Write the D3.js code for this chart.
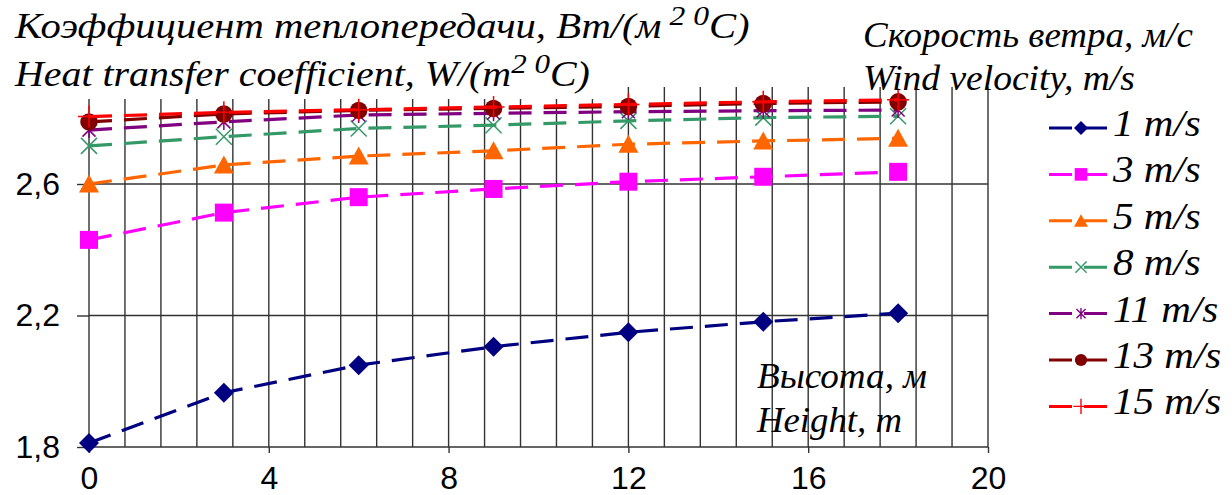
<!DOCTYPE html>
<html>
<head>
<meta charset="utf-8">
<script src="https://cdn.jsdelivr.net/npm/d3@7"></script>
<style>
  body { margin: 0; background: #fff; }
  svg { display: block; }
</style>
</head>
<body>
<script>
// heights (m) and heat transfer coefficient per wind speed
var heights = [0, 3, 6, 9, 12, 15, 18];
var v1  = [1.812, 1.965, 2.049, 2.105, 2.149, 2.181, 2.207];
var v3  = [2.430, 2.513, 2.560, 2.585, 2.607, 2.622, 2.637];
var v5  = [2.600, 2.658, 2.685, 2.701, 2.721, 2.731, 2.739];
var v8  = [2.716, 2.744, 2.769, 2.779, 2.792, 2.802, 2.806];
var v11 = [2.764, 2.789, 2.810, 2.815, 2.820, 2.823, 2.825];
var v13 = [2.789, 2.813, 2.824, 2.830, 2.836, 2.845, 2.850];
var v15 = [2.805, 2.818, 2.826, 2.834, 2.842, 2.850, 2.856];
var seriesNames = ["1 m/s", "3 m/s", "5 m/s", "8 m/s", "11 m/s", "13 m/s", "15 m/s"];
var xTicks = [0, 4, 8, 12, 16, 20];
var yTicks = [1.8, 2.2, 2.6];

var svgWidth = 1232, svgHeight = 495;
var plotLeft = 89, plotRight = 988, plotTop = 87, plotBottom = 447;

var series = [
  {name: seriesNames[0], values: v1,  color: "#000080", marker: "diamond"},
  {name: seriesNames[1], values: v3,  color: "#ff00ff", marker: "square"},
  {name: seriesNames[2], values: v5,  color: "#ff6600", marker: "triangle"},
  {name: seriesNames[3], values: v8,  color: "#339966", marker: "x"},
  {name: seriesNames[4], values: v11, color: "#800080", marker: "star"},
  {name: seriesNames[5], values: v13, color: "#800000", marker: "circle"},
  {name: seriesNames[6], values: v15, color: "#ff0000", marker: "plus"}
];

var x = d3.scaleLinear().domain([0, 20]).range([plotLeft, plotRight]);
var y = d3.scaleLinear().domain([1.8, 2.8951]).range([plotBottom, plotTop]);

var svg = d3.select("body").append("svg")
    .attr("width", svgWidth)
    .attr("height", svgHeight);

// grid: vertical lines every 0.8 m
var vGrid = d3.range(0, 20.0001, 0.8);
svg.append("g").selectAll("line")
    .data(vGrid)
    .enter()
    .append("line")
    .attr("x1", function(d) { return x(d); })
    .attr("x2", function(d) { return x(d); })
    .attr("y1", y(1.8))
    .attr("y2", plotTop)
    .attr("stroke", "#333")
    .attr("stroke-width", 1.4);

svg.append("g").selectAll("line")
    .data(yTicks)
    .enter()
    .append("line")
    .attr("x1", plotLeft)
    .attr("x2", plotRight)
    .attr("y1", function(d) { return y(d); })
    .attr("y2", function(d) { return y(d); })
    .attr("stroke", "#333")
    .attr("stroke-width", 1.4);

// axes
var fmtComma = function(d) { return d.toFixed(1).replace(".", ","); };
var yAxis = svg.append("g")
    .attr("transform", "translate(" + plotLeft + ",0)")
    .call(d3.axisLeft(y).tickValues(yTicks).tickSize(12).tickPadding(17).tickFormat(fmtComma));
var xAxis = svg.append("g")
    .attr("transform", "translate(0," + plotBottom + ")")
    .call(d3.axisBottom(x).tickValues(xTicks).tickSize(6).tickPadding(13).tickFormat(d3.format("d")));
[yAxis, xAxis].forEach(function(a) {
  a.select(".domain").remove();
  a.selectAll("line").attr("stroke", "#333").attr("stroke-width", 1.4);
  a.selectAll("text")
    .attr("fill", "#000")
    .style("font-family", "'Liberation Sans', Arial, sans-serif")
    .style("font-size", "32px");
});

// white box behind the title covers the top of the grid
svg.append("rect")
    .attr("x", 0).attr("y", 0)
    .attr("width", 620).attr("height", 99)
    .attr("fill", "#fff");

function markerPath(type) {
  switch (type) {
    case "diamond": return "M0,-10L10,0L0,10L-10,0Z";
    case "square": return "M-9,-9H9V9H-9Z";
    case "triangle": return "M0,-9.5L10,8.5H-10Z";
    case "circle": return d3.symbol(d3.symbolCircle, 240)();
    case "x": return "M-8,-8L8,8M-8,8L8,-8";
    case "star": return "M-6.5,-6.5L6.5,6.5M-6.5,6.5L6.5,-6.5M0,-8V8";
    case "plus": return "M-11,0H11M0,-11V11";
  }
}
function isStroked(type) { return type === "x" || type === "star" || type === "plus"; }

var line = d3.line()
    .x(function(d, i) { return x(heights[i]); })
    .y(function(d) { return y(d); });

var groups = svg.selectAll(".series")
    .data(series)
    .enter()
    .append("g")
    .attr("class", "series");

groups.append("path")
    .attr("d", function(s) { return line(s.values); })
    .attr("fill", "none")
    .attr("stroke", function(s) { return s.color; })
    .attr("stroke-width", 3.2)
    .attr("stroke-dasharray", "23,12");

groups.each(function(s) {
  d3.select(this).selectAll(".m")
    .data(s.values)
    .enter()
    .append("path")
    .attr("class", "m")
    .attr("transform", function(d, i) { return "translate(" + x(heights[i]) + "," + y(d) + ")"; })
    .attr("d", markerPath(s.marker))
    .attr("fill", isStroked(s.marker) ? "none" : s.color)
    .attr("stroke", s.color)
    .attr("stroke-width", isStroked(s.marker) ? 1.5 : 0);
});

// texts (the reference face is a bit wider than Liberation Serif, so stretch to width)
var serif = "'Liberation Serif', 'Times New Roman', serif";
function label(tx, ty, size) {
  return svg.append("text")
    .attr("x", tx).attr("y", ty)
    .style("font-family", serif)
    .style("font-style", "italic")
    .style("font-size", size + "px")
    .attr("fill", "#000");
}
function fitWidth(t, tx, w) {
  var sx = w / t.node().getComputedTextLength();
  t.attr("transform", "translate(" + tx + ",0) scale(" + sx + ",1) translate(" + (-tx) + ",0)");
}

var t1 = label(15, 38, 36);
t1.append("tspan").text("Коэффициент теплопередачи, Вт/(м");
t1.append("tspan").attr("dy", -13).style("font-size", "28px").text(" 2 0");
t1.append("tspan").attr("dy", 13).text("С)");
fitWidth(t1, 15, 735);

var t2 = label(15, 86, 36);
t2.append("tspan").text("Heat transfer coefficient, W/(m");
t2.append("tspan").attr("dy", -13).style("font-size", "28px").text("2 0");
t2.append("tspan").attr("dy", 13).text("C)");
fitWidth(t2, 15, 575);

fitWidth(label(863, 47, 36).text("Скорость ветра, м/с"), 863, 330);
fitWidth(label(863, 90, 36).text("Wind velocity, m/s"), 863, 272);
fitWidth(label(757, 388, 36).text("Высота, м"), 757, 170);
fitWidth(label(757, 432, 36).text("Height, m"), 757, 145);

// legend
var legend = svg.selectAll(".legend")
    .data(series)
    .enter()
    .append("g")
    .attr("class", "legend")
    .attr("transform", function(s, i) { return "translate(0," + (128 + i * 46.4) + ")"; });

legend.append("line")
    .attr("x1", 1049).attr("x2", 1108)
    .attr("stroke", function(s) { return s.color; })
    .attr("stroke-width", 3)
    .attr("stroke-dasharray", "23,12");

legend.append("path")
    .attr("transform", "translate(1081,0) scale(0.7)")
    .attr("d", function(s) { return markerPath(s.marker); })
    .attr("fill", function(s) { return isStroked(s.marker) ? "none" : s.color; })
    .attr("stroke", function(s) { return s.color; })
    .attr("stroke-width", function(s) { return isStroked(s.marker) ? 2 : 0; });

legend.append("text")
    .attr("x", 1113)
    .attr("y", 8)
    .attr("transform", "translate(1113,0) scale(1.08,1) translate(-1113,0)")
    .style("font-family", serif)
    .style("font-style", "italic")
    .style("font-size", "38px")
    .text(function(s) { return s.name; });
</script>
</body>
</html>
